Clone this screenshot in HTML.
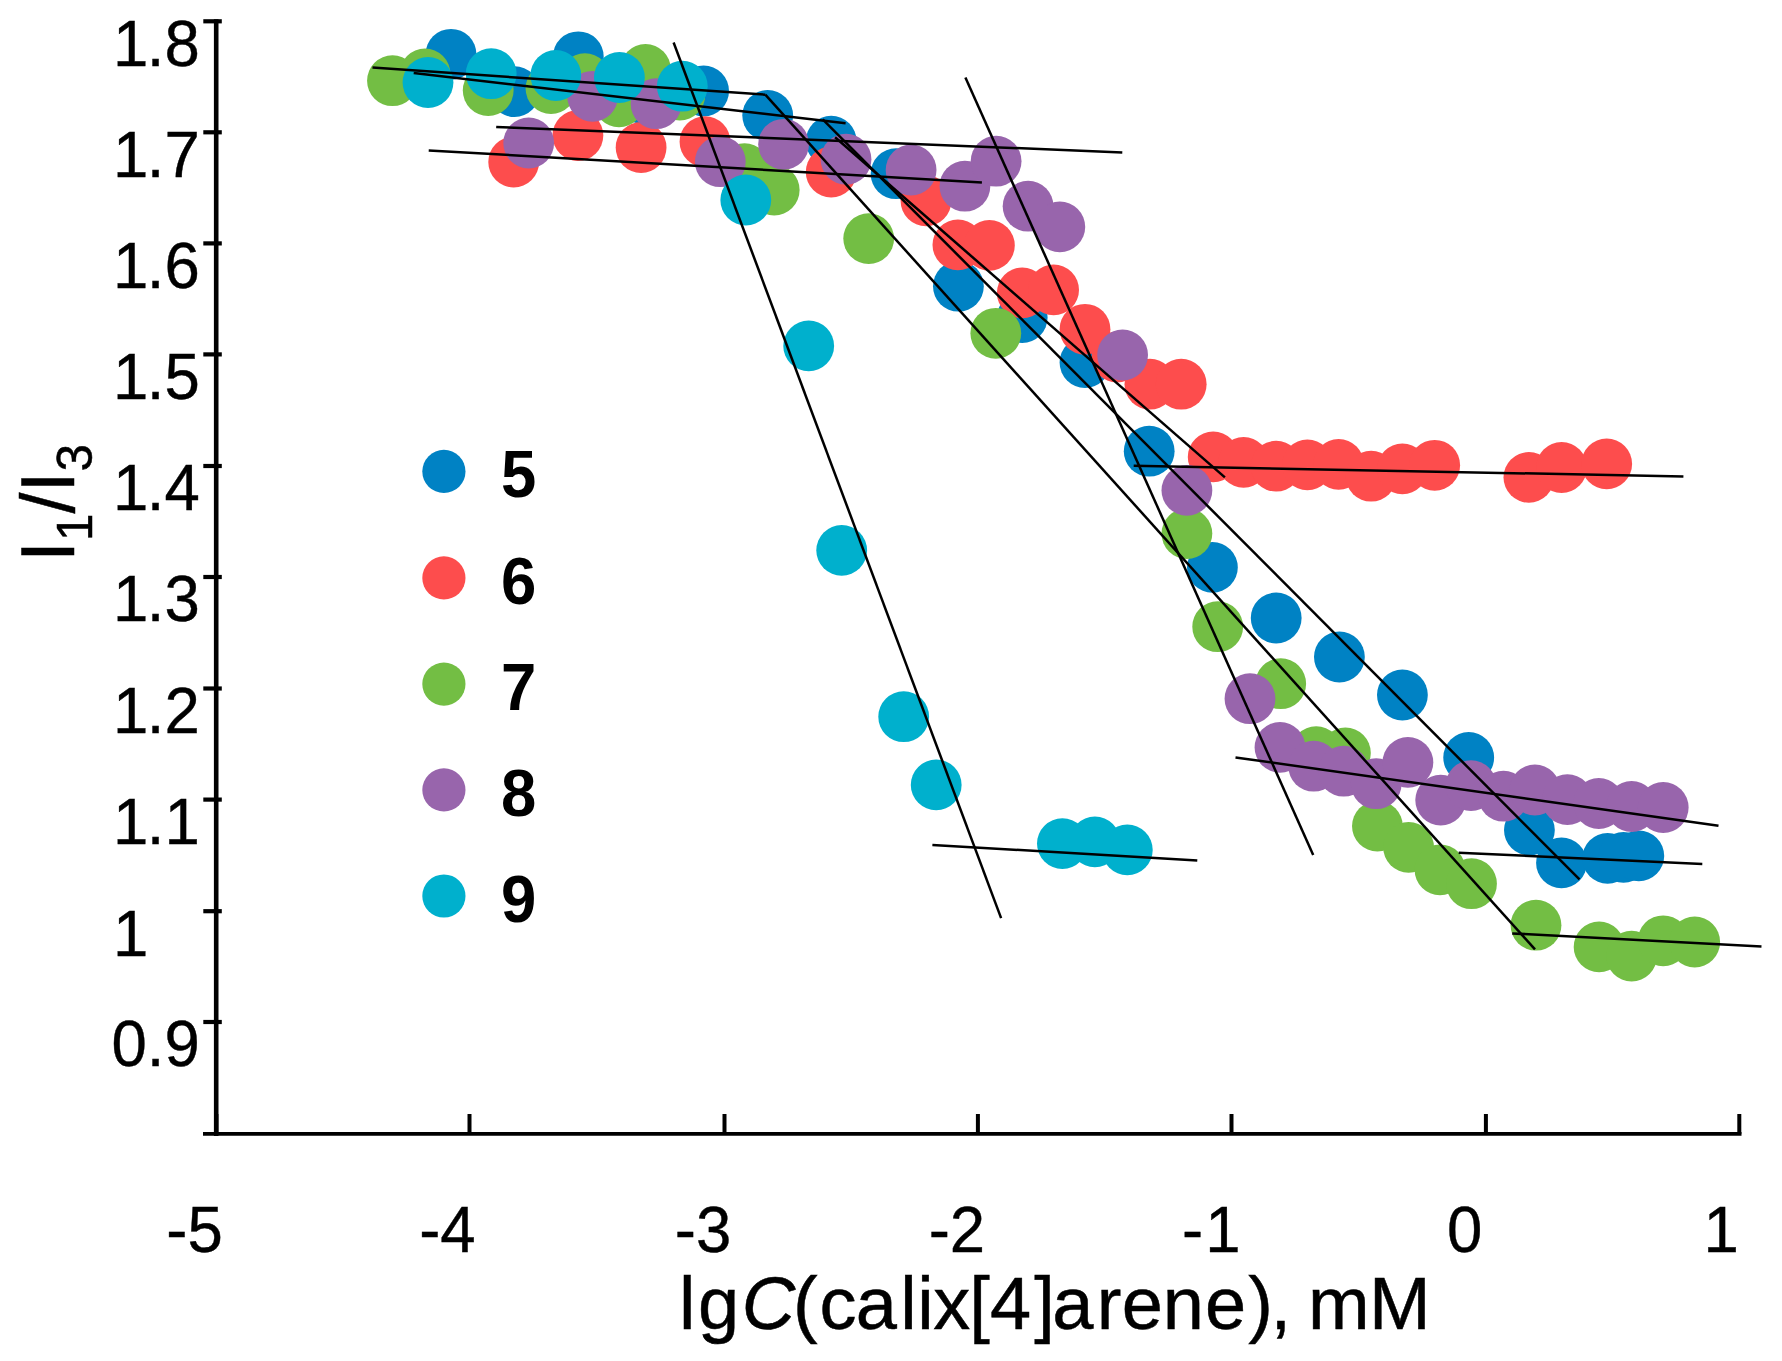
<!DOCTYPE html>
<html lang="en"><head><meta charset="utf-8"><title>I1/I3</title>
<style>
html,body{margin:0;padding:0;background:#fff;}
body{width:1782px;height:1361px;overflow:hidden;}
svg{display:block;}
text{font-family:"Liberation Sans",Arial,Helvetica,sans-serif;fill:#000;}
</style></head><body>
<svg width="1782" height="1361" viewBox="0 0 1782 1361">
<rect width="1782" height="1361" fill="#fff"/>

<g stroke="#000" fill="none">
<line x1="216.2" y1="19.2" x2="216.2" y2="1135.9" stroke-width="4.6"/>
<line x1="203" y1="1133.9" x2="1741.5" y2="1133.9" stroke-width="3.8"/>
<line x1="203.3" y1="21.3" x2="221.8" y2="21.3" stroke-width="4.2"/>
<line x1="203.3" y1="132.3" x2="221.8" y2="132.3" stroke-width="4.2"/>
<line x1="203.3" y1="243.4" x2="221.8" y2="243.4" stroke-width="4.2"/>
<line x1="203.3" y1="354.4" x2="221.8" y2="354.4" stroke-width="4.2"/>
<line x1="203.3" y1="466" x2="221.8" y2="466" stroke-width="4.2"/>
<line x1="203.3" y1="577" x2="221.8" y2="577" stroke-width="4.2"/>
<line x1="203.3" y1="688.5" x2="221.8" y2="688.5" stroke-width="4.2"/>
<line x1="203.3" y1="799.6" x2="221.8" y2="799.6" stroke-width="4.2"/>
<line x1="203.3" y1="911.2" x2="221.8" y2="911.2" stroke-width="4.2"/>
<line x1="203.3" y1="1022" x2="221.8" y2="1022" stroke-width="4.2"/>
<line x1="216.4" y1="1114" x2="216.4" y2="1134" stroke-width="4"/>
<line x1="469.5" y1="1114" x2="469.5" y2="1134" stroke-width="4"/>
<line x1="724.5" y1="1114" x2="724.5" y2="1134" stroke-width="4"/>
<line x1="977.9" y1="1114" x2="977.9" y2="1134" stroke-width="4"/>
<line x1="1231.5" y1="1114" x2="1231.5" y2="1134" stroke-width="4"/>
<line x1="1485.9" y1="1114" x2="1485.9" y2="1134" stroke-width="4"/>
<line x1="1739.3" y1="1114" x2="1739.3" y2="1134" stroke-width="4"/>
</g>
<g font-size="63.5" stroke="#000" stroke-width="0.4">
<text transform="translate(111.5,65.6) scale(1,1.03)"><tspan x="1.6">1</tspan><tspan x="35.3">.8</tspan></text>
<text transform="translate(111.5,176.6) scale(1,1.03)"><tspan x="1.6">1</tspan><tspan x="35.3">.7</tspan></text>
<text transform="translate(111.5,287.7) scale(1,1.03)"><tspan x="1.6">1</tspan><tspan x="35.3">.6</tspan></text>
<text transform="translate(111.5,398.7) scale(1,1.03)"><tspan x="1.6">1</tspan><tspan x="35.3">.5</tspan></text>
<text transform="translate(111.5,510.3) scale(1,1.03)"><tspan x="1.6">1</tspan><tspan x="35.3">.4</tspan></text>
<text transform="translate(111.5,621.3) scale(1,1.03)"><tspan x="1.6">1</tspan><tspan x="35.3">.3</tspan></text>
<text transform="translate(111.5,732.8) scale(1,1.03)"><tspan x="1.6">1</tspan><tspan x="35.3">.2</tspan></text>
<text transform="translate(111.5,843.9) scale(1,1.03)"><tspan x="1.6">1</tspan><tspan x="35.3">.1</tspan></text>
<text transform="translate(113.1,955.5) scale(1,1.03)">1</text>
<text transform="translate(111.5,1066.3) scale(1,1.03)">0.9</text>
<text transform="translate(166.3,1252) scale(1,1.03)">-5</text>
<text transform="translate(419.2,1252) scale(1,1.03)">-4</text>
<text transform="translate(674.8,1252) scale(1,1.03)">-3</text>
<text transform="translate(928.7,1252) scale(1,1.03)">-2</text>
<text transform="translate(1182,1252) scale(1,1.03)"><tspan x="0">-</tspan><tspan x="23.3">1</tspan></text>
<text transform="translate(1447,1252) scale(1,1.03)">0</text>
<text transform="translate(1703.4,1252) scale(1,1.03)">1</text>
</g>
<text y="1328.6" font-size="74" stroke="#000" stroke-width="0.5"><tspan x="679.1 697.9">lg</tspan><tspan x="741.7" font-style="italic">C</tspan><tspan x="793.0 819.6 855.7 900.3 917.2 933.2 969.2 990.1 1034.2 1052.2 1096.8 1121.7 1162.8 1205.0 1248.2 1270.6 1290 1308.1 1369.0">(calix[4]arene), mM</tspan></text>
<text transform="translate(74.4,562) rotate(-90)" font-size="75.5" stroke="#000" stroke-width="0.5">I<tspan font-size="49.5" dy="18">1</tspan><tspan dy="-18">/I</tspan><tspan font-size="49.5" dy="18">3</tspan></text>
<g fill="#0082C4">
<circle cx="451" cy="54.3" r="25.4"/><circle cx="578.3" cy="56.8" r="25.4"/><circle cx="514.5" cy="91.6" r="25.4"/><circle cx="641" cy="98" r="25.4"/><circle cx="703.6" cy="91" r="25.4"/><circle cx="767.7" cy="115.5" r="25.4"/><circle cx="831.2" cy="141.2" r="25.4"/><circle cx="896.1" cy="173.7" r="25.4"/><circle cx="958.4" cy="286.2" r="25.4"/><circle cx="1022.2" cy="317.6" r="25.4"/><circle cx="1085" cy="362.5" r="25.4"/><circle cx="1149.2" cy="451.2" r="25.4"/><circle cx="1212.4" cy="567.4" r="25.4"/><circle cx="1276.2" cy="618" r="25.4"/><circle cx="1339.4" cy="657" r="25.4"/><circle cx="1402.4" cy="695" r="25.4"/><circle cx="1468.7" cy="757.5" r="25.4"/><circle cx="1529.4" cy="830.1" r="25.4"/><circle cx="1561.5" cy="862.9" r="25.4"/><circle cx="1607.6" cy="858.4" r="25.4"/><circle cx="1623.5" cy="857.4" r="25.4"/><circle cx="1638.8" cy="855.9" r="25.4"/>
</g>
<g fill="#FD4D4D">
<circle cx="513.7" cy="162" r="25.4"/><circle cx="577.9" cy="135.5" r="25.4"/><circle cx="641.1" cy="147.5" r="25.4"/><circle cx="705" cy="141.7" r="25.4"/><circle cx="831.2" cy="172" r="25.4"/><circle cx="926" cy="200.8" r="25.4"/><circle cx="957.9" cy="244.9" r="25.4"/><circle cx="989.4" cy="245.4" r="25.4"/><circle cx="1022.3" cy="292.9" r="25.4"/><circle cx="1053.6" cy="289.9" r="25.4"/><circle cx="1085" cy="329.3" r="25.4"/><circle cx="1117" cy="357" r="25.4"/><circle cx="1149.9" cy="384.2" r="25.4"/><circle cx="1181.2" cy="384.2" r="25.4"/><circle cx="1213.2" cy="456.9" r="25.4"/><circle cx="1243.6" cy="462.4" r="25.4"/><circle cx="1276.1" cy="466.2" r="25.4"/><circle cx="1307.4" cy="464.9" r="25.4"/><circle cx="1338.6" cy="464.4" r="25.4"/><circle cx="1371.1" cy="476.2" r="25.4"/><circle cx="1402.4" cy="468.9" r="25.4"/><circle cx="1434.7" cy="465.3" r="25.4"/><circle cx="1528.9" cy="477.4" r="25.4"/><circle cx="1561.6" cy="467.5" r="25.4"/><circle cx="1606.7" cy="463.9" r="25.4"/>
</g>
<g fill="#73BE44">
<circle cx="392.5" cy="80.7" r="25.4"/><circle cx="425" cy="74" r="25.4"/><circle cx="488.2" cy="90.5" r="25.4"/><circle cx="551" cy="88.5" r="25.4"/><circle cx="584.9" cy="78.7" r="25.4"/><circle cx="645.5" cy="69.5" r="25.4"/><circle cx="619" cy="101.8" r="25.4"/><circle cx="679.8" cy="95" r="25.4"/><circle cx="744.5" cy="168.6" r="25.4"/><circle cx="774.2" cy="190" r="25.4"/><circle cx="868.7" cy="238.6" r="25.4"/><circle cx="995.8" cy="333.3" r="25.4"/><circle cx="1186.9" cy="533.6" r="25.4"/><circle cx="1217.7" cy="626.7" r="25.4"/><circle cx="1280.7" cy="683.7" r="25.4"/><circle cx="1316.2" cy="751.7" r="25.4"/><circle cx="1345.4" cy="752.9" r="25.4"/><circle cx="1377.4" cy="826.1" r="25.4"/><circle cx="1408.6" cy="847.4" r="25.4"/><circle cx="1440" cy="869.8" r="25.4"/><circle cx="1471.5" cy="883.7" r="25.4"/><circle cx="1536" cy="925.2" r="25.4"/><circle cx="1599.1" cy="946.9" r="25.4"/><circle cx="1631.6" cy="956.1" r="25.4"/><circle cx="1663.2" cy="940.8" r="25.4"/><circle cx="1694.7" cy="942" r="25.4"/>
</g>
<g fill="#9865AC">
<circle cx="528.7" cy="143" r="25.4"/><circle cx="592.6" cy="96.3" r="25.4"/><circle cx="656.1" cy="103.7" r="25.4"/><circle cx="720.3" cy="161.7" r="25.4"/><circle cx="783.6" cy="144.3" r="25.4"/><circle cx="846" cy="159.2" r="25.4"/><circle cx="911.1" cy="170" r="25.4"/><circle cx="964.9" cy="186.2" r="25.4"/><circle cx="996.1" cy="161.2" r="25.4"/><circle cx="1028.1" cy="206.2" r="25.4"/><circle cx="1059.8" cy="226.9" r="25.4"/><circle cx="1122.6" cy="355" r="25.4"/><circle cx="1186.9" cy="490.4" r="25.4"/><circle cx="1250" cy="698.7" r="25.4"/><circle cx="1280" cy="747.4" r="25.4"/><circle cx="1313.7" cy="766.2" r="25.4"/><circle cx="1343.7" cy="771.2" r="25.4"/><circle cx="1376.2" cy="783.7" r="25.4"/><circle cx="1407.9" cy="762.4" r="25.4"/><circle cx="1440.7" cy="800.1" r="25.4"/><circle cx="1471" cy="785.6" r="25.4"/><circle cx="1503.5" cy="796.2" r="25.4"/><circle cx="1534.9" cy="790" r="25.4"/><circle cx="1567.4" cy="799.6" r="25.4"/><circle cx="1598.8" cy="803.5" r="25.4"/><circle cx="1631.6" cy="806.5" r="25.4"/><circle cx="1663.2" cy="807.5" r="25.4"/>
</g>
<g fill="#00B0CD">
<circle cx="428" cy="82.5" r="25.4"/><circle cx="491.2" cy="73.7" r="25.4"/><circle cx="555.8" cy="75.5" r="25.4"/><circle cx="619.4" cy="77.5" r="25.4"/><circle cx="682.3" cy="86.2" r="25.4"/><circle cx="745.8" cy="200" r="25.4"/><circle cx="808.7" cy="345.9" r="25.4"/><circle cx="841.7" cy="550.4" r="25.4"/><circle cx="903.7" cy="716.7" r="25.4"/><circle cx="936.2" cy="784.9" r="25.4"/><circle cx="1062.4" cy="843.6" r="25.4"/><circle cx="1094.9" cy="841.9" r="25.4"/><circle cx="1127.3" cy="849.9" r="25.4"/>
</g>
<g stroke="#000" stroke-width="2.5" stroke-linecap="butt">
<line x1="372.5" y1="67.5" x2="765.3" y2="94.7"/>
<line x1="765.3" y1="94.7" x2="1535" y2="949.3"/>
<line x1="413.7" y1="73" x2="845.6" y2="123.3"/>
<line x1="822.7" y1="119.4" x2="1579.5" y2="879.4"/>
<line x1="496.2" y1="127" x2="1122.3" y2="152.4"/>
<line x1="428.7" y1="150.4" x2="981.9" y2="182.4"/>
<line x1="835.1" y1="137.3" x2="1224.9" y2="477.4"/>
<line x1="673.6" y1="42.5" x2="1001.1" y2="918.1"/>
<line x1="965.4" y1="77.5" x2="1313.2" y2="854.9"/>
<line x1="1133.7" y1="465.7" x2="1683.4" y2="476.5"/>
<line x1="1235.5" y1="757.4" x2="1718.5" y2="825.8"/>
<line x1="1458.7" y1="852.8" x2="1702.3" y2="863.9"/>
<line x1="1512.2" y1="933.4" x2="1761.5" y2="946.5"/>
<line x1="932.4" y1="844.9" x2="1197.3" y2="860.4"/>
</g>
<g font-size="63.5" font-weight="bold">
<circle cx="443.9" cy="471.4" r="21.6" fill="#0082C4"/><text transform="translate(501,497.3) scale(1,1.045)">5</text>
<circle cx="443.9" cy="577.9" r="21.6" fill="#FD4D4D"/><text transform="translate(501,603.8) scale(1,1.045)">6</text>
<circle cx="443.9" cy="684.1" r="21.6" fill="#73BE44"/><text transform="translate(501,710.0) scale(1,1.045)">7</text>
<circle cx="443.9" cy="789.9" r="21.6" fill="#9865AC"/><text transform="translate(501,815.8) scale(1,1.045)">8</text>
<circle cx="443.9" cy="896" r="21.6" fill="#00B0CD"/><text transform="translate(501,921.9) scale(1,1.045)">9</text>
</g>
</svg></body></html>
